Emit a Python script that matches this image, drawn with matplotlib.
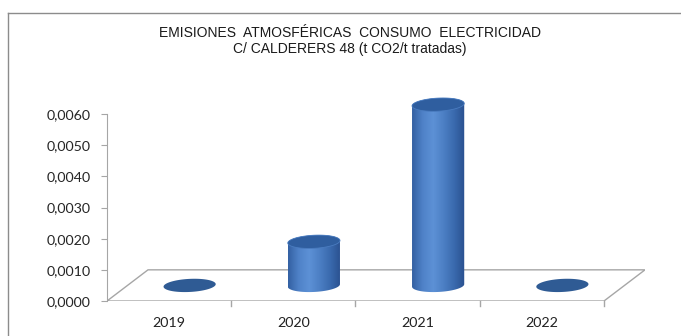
import numpy as np
import matplotlib.pyplot as plt
from matplotlib.patches import Polygon
from matplotlib.lines import Line2D
from matplotlib.colors import LinearSegmentedColormap

# datos
years = ['2019', '2020', '2021', '2022']
emisiones = [0.0, 0.0014, 0.0058, 0.0]
yticks = [0.0, 0.001, 0.002, 0.003, 0.004, 0.005, 0.006]
titulo = 'EMISIONES  ATMOSFÉRICAS  CONSUMO  ELECTRICIDAD\nC/ CALDERERS 48 (t CO2/t tratadas)'

# profundidad del "3D" (en unidades de categoria / valor)
DX, DY = 0.33, 0.001
W = 0.42          # ancho cilindro
EH = 0.00021      # semieje vertical elipse
SH = 0.00004      # inclinacion de la elipse
YMAX = 0.0066     # margen para la tapa del cilindro mas alto

fig = plt.figure(figsize=(6.81, 3.36), dpi=100)
fig.patch.set_facecolor('white')
# marco del grafico (solo izquierda y arriba dentro de la imagen)
x0, y0f = 7.5 / 681, 1 - 12.5 / 336
fig.lines.append(Line2D([x0, x0], [-0.01, y0f], transform=fig.transFigure,
                        color='#8c8c8c', lw=1.0))
fig.lines.append(Line2D([x0, 1.01], [y0f, y0f], transform=fig.transFigure,
                        color='#8c8c8c', lw=1.0))

h_px = 187 * YMAX / 0.006
ax = fig.add_axes([107 / 681, 35 / 336, 538 / 681, h_px / 336])
ax.patch.set_alpha(0)
for s in ['top', 'right', 'bottom']:
    ax.spines[s].set_visible(False)
ax.spines['left'].set_color('#a6a6a6')
ax.spines['left'].set_bounds(0, 0.006)

ax.set_yticks(yticks)
ax.set_yticklabels(['{:.4f}'.format(v).replace('.', ',') for v in yticks],
                   fontsize=10.3, color='#262626', family='Lato')
ax.tick_params(axis='y', length=4, color='#a6a6a6', pad=8)
ax.set_xticks([])

# suelo
suelo = Polygon([(0, 0), (4, 0), (4 + DX, DY), (DX, DY)], closed=True,
                facecolor='white', edgecolor='#a6a6a6', lw=1.0, zorder=1)
ax.add_patch(suelo)
for i in range(1, 5):
    ax.plot([i, i], [0, -0.00015], color='#a6a6a6', lw=1.0, clip_on=False)
for i, y in enumerate(years):
    ax.text(i + 0.5, -0.0007, y, ha='center', va='center', fontsize=10.3,
            color='#222222', family='Lato')

cmap = LinearSegmentedColormap.from_list(
    'cil', ['#3461a3', '#4f82c8', '#5d91d6', '#4c7fc4', '#3a6aae', '#2a5190'])
t = np.linspace(0, np.pi, 60)
tt = np.linspace(0, 2 * np.pi, 120)


def elipse(cx, cy):
    xs = cx + W / 2 * np.cos(tt)
    ys = cy + EH * np.sin(tt) + SH * np.cos(tt)
    return np.column_stack([xs, ys])


for i, v in enumerate(emisiones):
    cx = i + 0.5 + DX / 2
    base = DY / 2
    top = base + v
    if v > 0:
        # cuerpo: mitad inferior de la elipse base + lados
        xb = cx + W / 2 * np.cos(np.pi + t)
        yb = base + EH * np.sin(np.pi + t) + SH * np.cos(np.pi + t)
        xt = cx + W / 2 * np.cos(t)
        yt = top + EH * np.sin(t) + SH * np.cos(t)
        verts = np.column_stack([np.concatenate([xb, xt]),
                                 np.concatenate([yb, yt])])
        cuerpo = Polygon(verts, closed=True, facecolor='none',
                         edgecolor='none', zorder=3)
        ax.add_patch(cuerpo)
        grad = np.linspace(0, 1, 100).reshape(1, -1)
        im = ax.imshow(grad, cmap=cmap, aspect='auto', zorder=3,
                       extent=[cx - W / 2, cx + W / 2, base - EH * 1.5, top + EH * 1.5],
                       interpolation='bilinear')
        im.set_clip_path(cuerpo)
        tapa = Polygon(elipse(cx, top), closed=True, facecolor='#2f5e9f',
                       edgecolor='#4a7cc0', lw=0.6, zorder=4)
        ax.add_patch(tapa)
    else:
        plana = Polygon(elipse(cx, base), closed=True, facecolor='#2f5b94',
                        edgecolor='none', zorder=3)
        ax.add_patch(plana)

ax.set_xlim(0, 4 + DX)
ax.set_ylim(0, YMAX)

fig.text(350 / 681, 1 - 41 / 336, titulo, ha='center', va='center',
         fontsize=10, family='Liberation Sans', color='#1a1a1a', linespacing=1.1)

fig.savefig('out.png', dpi=100)
